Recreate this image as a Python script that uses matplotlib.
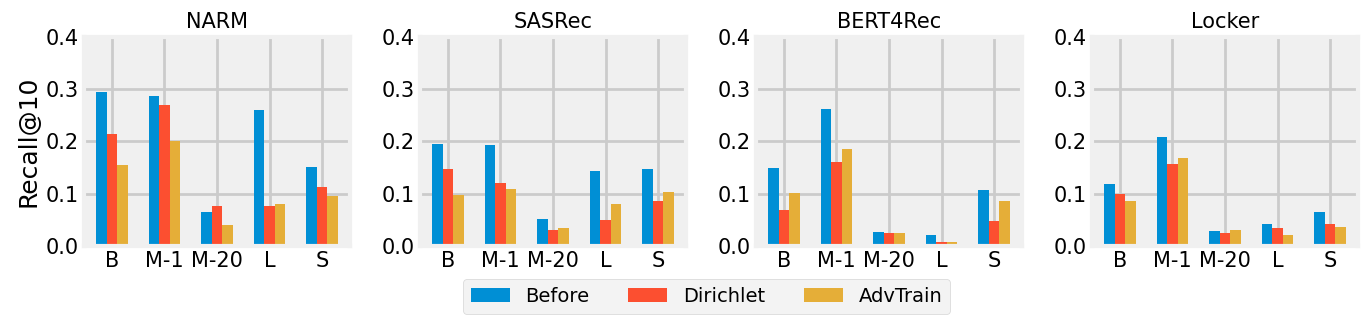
import numpy as np
import matplotlib
matplotlib.use("Agg")
import matplotlib.pyplot as plt

plt.style.use("fivethirtyeight")
plt.rcParams["figure.facecolor"] = "white"
plt.rcParams["savefig.facecolor"] = "white"
plt.rcParams["savefig.edgecolor"] = "white"
plt.rcParams["grid.linewidth"] = 2.0

models = ["NARM", "SASRec", "BERT4Rec", "Locker"]
datasets = ["B", "M-1", "M-20", "L", "S"]
methods = ["Before", "Dirichlet", "AdvTrain"]

# Recall@10 per model, rows = Before / Dirichlet / AdvTrain
narm = [[0.294, 0.287, 0.065, 0.260, 0.151],
        [0.214, 0.269, 0.076, 0.076, 0.113],
        [0.155, 0.201, 0.040, 0.080, 0.096]]
sasrec = [[0.195, 0.193, 0.052, 0.143, 0.147],
          [0.147, 0.120, 0.031, 0.050, 0.086],
          [0.097, 0.109, 0.034, 0.080, 0.103]]
bert4rec = [[0.149, 0.262, 0.027, 0.021, 0.107],
            [0.069, 0.161, 0.025, 0.008, 0.048],
            [0.101, 0.185, 0.025, 0.008, 0.086]]
locker = [[0.118, 0.208, 0.029, 0.042, 0.065],
          [0.100, 0.157, 0.025, 0.034, 0.042],
          [0.086, 0.168, 0.031, 0.021, 0.036]]
results = [narm, sasrec, bert4rec, locker]

fig, axes = plt.subplots(1, 4, figsize=(13.72, 3.3), dpi=100)
fig.subplots_adjust(left=0.0612, right=0.9898, bottom=0.2545, top=0.889, wspace=0.263)

x = np.arange(len(datasets))
width = 0.2
for ax, name, vals in zip(axes, models, results):
    for i, m in enumerate(methods):
        ax.bar(x + (i - 1) * width, vals[i], width, label=m)
    ax.set_title(name, fontsize=15)
    ax.set_ylim(0, 0.4)
    ax.set_yticks([0, 0.1, 0.2, 0.3, 0.4])
    ax.set_xticks(x)
    ax.set_xticklabels(datasets)
    ax.tick_params(labelsize=15)

axes[0].set_ylabel("Recall@10", fontsize=18)

handles, labels = axes[0].get_legend_handles_labels()
fig.legend(handles, labels, loc="center", ncol=3, fontsize=14,
           bbox_to_anchor=(0.515, 0.1015))

fig.savefig("out.png", dpi=100)
